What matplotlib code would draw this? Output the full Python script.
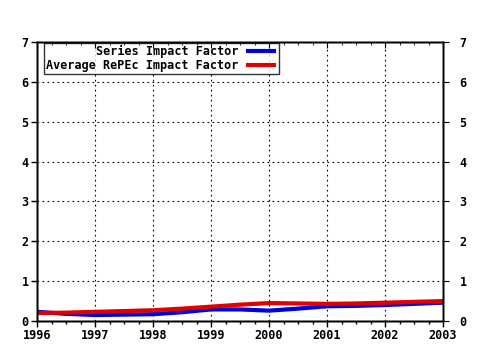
import matplotlib
matplotlib.use("Agg")
import matplotlib.pyplot as plt
from matplotlib.ticker import MultipleLocator

years = [1996, 1996.5, 1997, 1997.5, 1998, 1998.5, 1999, 1999.5,
         2000, 2000.5, 2001, 2001.5, 2002, 2002.5, 2003]
series_if = [0.23, 0.18, 0.15, 0.16, 0.17, 0.22, 0.29, 0.29,
             0.26, 0.31, 0.37, 0.38, 0.40, 0.43, 0.46]
average_if = [0.20, 0.21, 0.23, 0.25, 0.27, 0.31, 0.36, 0.41,
              0.45, 0.44, 0.43, 0.44, 0.46, 0.48, 0.50]
year_ticks = [1996, 1997, 1998, 1999, 2000, 2001, 2002, 2003]
y_ticks = [0, 1, 2, 3, 4, 5, 6, 7]
labels = ["Series Impact Factor", "Average RePEc Impact Factor"]

font = {"family": "DejaVu Sans Mono", "weight": "bold", "size": 8.5}

fig = plt.figure(figsize=(4.8, 3.5), dpi=100)
ax = fig.add_axes([37/480, 1-321/350, (443-37)/480, (321-42)/350])

ax.plot(years, series_if, color="#0000dd", lw=3, label=labels[0], solid_capstyle="butt")
ax.plot(years, average_if, color="#e00000", lw=3, label=labels[1], solid_capstyle="butt")

ax.set_xlim(1996, 2003)
ax.set_ylim(0, 7)
ax.set_xticks(year_ticks)
ax.set_yticks(y_ticks)
ax.xaxis.set_minor_locator(MultipleLocator(0.25))
ax.grid(True, which="major", color="black", linestyle=(0, (1.5, 3)), lw=0.8)
ax.tick_params(which="major", direction="out", length=4, width=1, colors="black", pad=2)
ax.tick_params(which="minor", direction="out", length=2, width=1)
for lab in ax.get_xticklabels() + ax.get_yticklabels():
    lab.set_fontproperties(font)
    lab.set_fontsize(8.5)

axt = ax.twiny()
axt.set_xlim(ax.get_xlim())
axt.set_xticks(year_ticks)
axt.xaxis.set_minor_locator(MultipleLocator(0.25))
axt.tick_params(which="major", direction="in", length=4, labeltop=False)
axt.tick_params(which="minor", direction="in", length=2)

axr = ax.twinx()
axr.set_ylim(ax.get_ylim())
axr.set_yticks(y_ticks)
axr.tick_params(direction="out", length=4, pad=8)
for lab in axr.get_yticklabels():
    lab.set_fontproperties(font)
    lab.set_fontsize(8.5)

for a in (ax, axt, axr):
    for s in a.spines.values():
        s.set_linewidth(1.0)

leg = ax.legend(loc="upper left", markerfirst=False, frameon=True, fancybox=False,
                prop={"family": "DejaVu Sans Mono", "weight": "bold", "size": 8.5},
                handlelength=2.6, handletextpad=0.6, borderpad=0.2, labelspacing=0.05,
                bbox_to_anchor=(0.017, 0.997), borderaxespad=0.0)
leg.get_frame().set_edgecolor("black")
leg.get_frame().set_linewidth(1)
for t in leg.get_texts():
    t.set_ha("right")
leg._legend_box.align = "right"

fig.savefig("out.png", dpi=100, facecolor="white")
